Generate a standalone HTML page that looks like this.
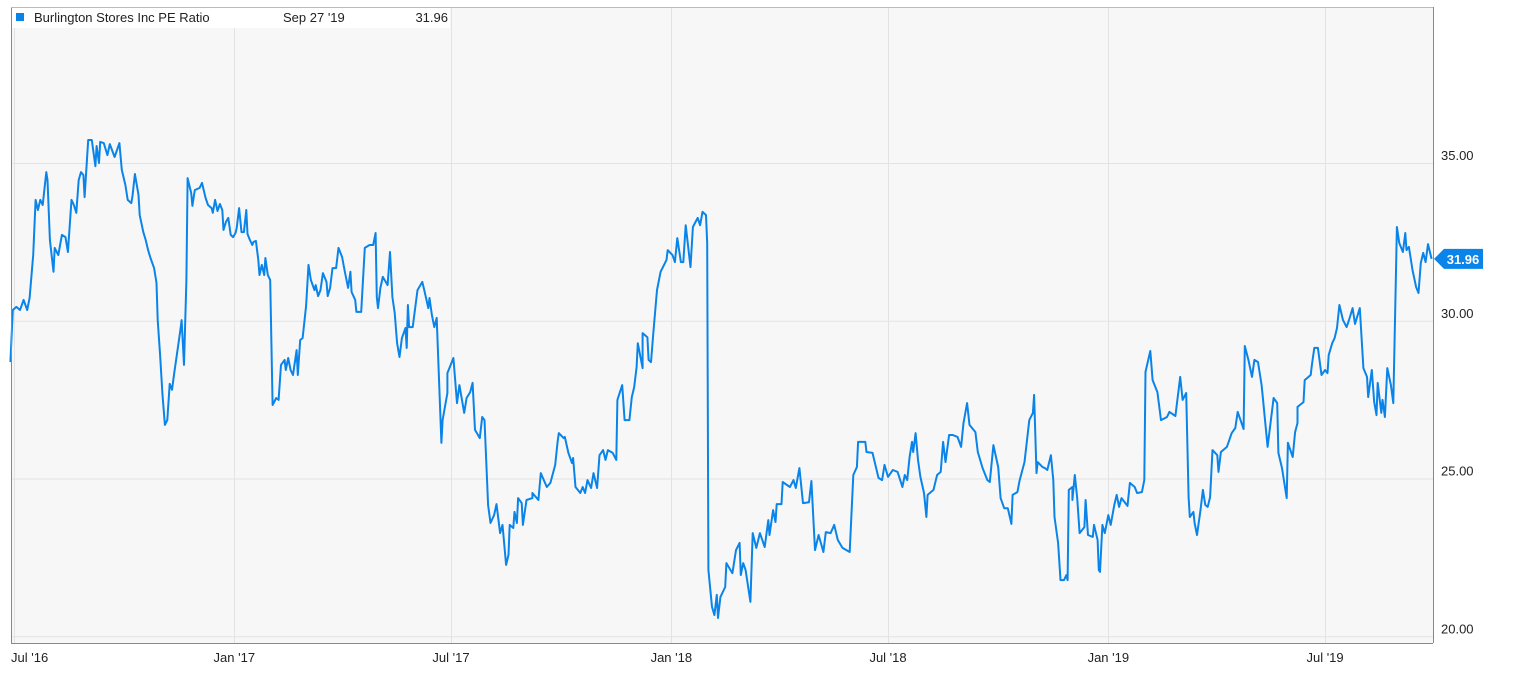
<!DOCTYPE html>
<html><head><meta charset="utf-8"><style>
body{margin:0;background:#fff;font-family:"Liberation Sans",Arial,sans-serif;}
svg text{font-family:"Liberation Sans",Arial,sans-serif;}
</style></head><body>
<svg id="chart" width="1528" height="680" xmlns="http://www.w3.org/2000/svg">
<rect x="11" y="7" width="1422" height="636" fill="#f7f7f7"/>
<g id="grid"></g>
<g id="axes"></g>
<polyline id="series" fill="none" stroke="#0a84e8" stroke-width="2" stroke-linejoin="round"/>
<line x1="11" y1="643.5" x2="1433" y2="643.5" stroke="#888"/>
<line x1="11.5" y1="7" x2="11.5" y2="643" stroke="#888"/>
<line x1="1433.5" y1="7" x2="1433.5" y2="643" stroke="#888"/>
<line x1="11" y1="7.5" x2="1433" y2="7.5" stroke="#bbb"/>
<g>
<rect x="12" y="8" width="438" height="20" fill="#fff"/>
<rect x="16" y="13" width="8" height="8" fill="#0a84e8"/>
<text x="34" y="22" font-size="13" fill="#222">Burlington Stores Inc PE Ratio</text>
<text x="283" y="22" font-size="13" fill="#222">Sep 27 '19</text>
<text x="448" y="22" font-size="13" fill="#222" text-anchor="end">31.96</text>
</g>
<g id="callout"></g>
</svg>
<script>
const days=[-3,-1,2,5,8,11,13,16,18,20,22,24,27,28,30,33,34,37,40,43,45,48,50,52,54,56,58,59,62,65,68,69,71,72,75,78,80,84,88,90,93,95,98,99,101,104,105,108,110,112,114,117,119,120,122,124,126,128,130,132,134,136,139,140,142,144,145,148,149,151,155,157,160,162,165,166,168,170,172,174,175,177,179,181,183,185,186,188,190,192,194,195,197,199,200,202,204,205,207,209,210,212,214,216,219,221,223,226,227,229,231,233,236,237,239,241,244,246,248,251,252,254,256,258,261,262,264,266,269,271,274,276,279,281,282,285,286,290,293,297,300,302,303,304,306,308,312,314,316,318,320,322,324,327,328,329,330,333,337,341,343,346,347,349,351,353,357,358,362,362,367,370,372,376,378,381,383,385,389,391,393,396,398,401,403,406,408,411,413,414,417,418,420,421,424,425,428,433,433,438,440,445,448,452,454,455,459,460,463,466,467,469,473,475,477,479,482,484,487,489,492,494,496,500,503,504,508,510,514,516,518,520,521,525,525,529,530,532,534,537,540,545,546,550,552,554,557,559,561,565,567,571,573,575,578,579,580,583,585,587,588,590,594,595,600,603,606,607,609,611,615,617,620,623,627,630,631,634,636,637,641,642,648,651,653,656,659,664,666,669,672,676,678,682,685,688,692,698,701,704,705,711,712,717,722,725,727,730,734,738,742,744,746,748,750,751,753,755,757,760,762,763,768,771,774,776,778,781,784,788,791,793,796,798,803,805,809,813,815,818,822,824,827,830,833,834,838,840,844,848,851,852,854,855,859,861,863,866,868,869,872,874,877,879,880,881,884,884,886,888,890,894,895,897,901,902,905,906,907,909,911,914,916,919,921,923,925,930,932,936,938,942,944,945,949,951,955,958,963,965,970,974,976,979,981,982,985,986,988,991,993,995,997,999,1001,1005,1006,1008,1013,1017,1020,1022,1027,1028,1031,1034,1036,1039,1042,1043,1047,1052,1055,1056,1059,1063,1064,1068,1070,1072,1072,1077,1078,1083,1084,1086,1089,1092,1095,1097,1098,1101,1103,1105,1107,1110,1113,1115,1118,1120,1124,1127,1130,1131,1134,1136,1138,1139,1142,1143,1145,1147,1150,1152,1155,1157,1160,1162,1163,1165,1168,1171,1173,1175,1177,1179,1181,1184];
const values=[28.69,30.34,30.44,30.34,30.66,30.34,30.72,32.08,33.83,33.51,33.83,33.67,34.71,34.46,32.56,31.55,32.31,32.08,32.72,32.65,32.18,33.83,33.67,33.42,34.46,34.71,34.62,33.92,35.73,35.73,34.90,35.54,35.00,35.67,35.63,35.25,35.60,35.19,35.63,34.78,34.30,33.83,33.73,33.95,34.65,33.99,33.35,32.81,32.56,32.24,31.99,31.67,31.20,30.02,28.91,27.65,26.70,26.85,28.00,27.81,28.38,28.91,29.71,30.02,28.60,31.29,34.52,34.05,33.64,34.14,34.21,34.37,33.89,33.67,33.57,33.42,33.83,33.48,33.70,33.51,32.88,33.13,33.26,32.72,32.65,32.78,32.94,33.57,32.81,32.81,33.51,32.75,32.56,32.40,32.50,32.53,31.93,31.45,31.77,31.45,31.99,31.45,31.29,27.33,27.55,27.49,28.60,28.76,28.44,28.82,28.44,28.28,29.07,28.28,29.39,29.45,30.47,31.77,31.29,30.97,31.13,30.78,30.97,31.51,31.23,30.78,31.04,31.67,31.67,32.31,32.02,31.61,31.04,31.55,30.91,30.66,30.28,30.28,32.31,32.40,32.40,32.78,30.75,30.40,31.04,31.39,31.13,32.18,30.75,30.25,29.29,28.85,29.45,29.77,29.14,30.50,29.80,29.80,30.97,31.23,30.91,30.40,30.72,30.18,29.80,30.09,26.13,26.85,27.71,28.34,28.82,27.39,27.96,27.08,27.55,27.74,28.03,26.54,26.28,26.95,26.85,24.16,23.59,23.84,24.19,23.27,23.53,22.26,22.58,23.53,23.43,23.94,23.59,24.38,24.22,23.53,24.32,24.38,24.54,24.32,25.17,24.73,24.86,25.43,26.16,26.44,26.28,26.32,25.81,25.49,25.65,24.73,24.54,24.73,24.54,24.95,24.70,25.17,24.70,25.74,25.90,25.59,25.90,25.81,25.59,27.49,27.96,26.85,26.85,27.58,27.90,28.53,29.29,28.50,29.61,29.48,28.76,28.69,29.64,30.97,31.55,31.93,32.24,32.08,31.86,32.62,31.86,31.86,33.03,31.70,32.97,33.26,33.03,33.45,33.35,32.46,22.10,20.93,20.67,21.31,20.58,21.24,21.56,22.32,22.00,22.73,22.96,21.94,22.32,22.10,21.09,23.27,22.80,23.27,22.83,23.68,23.21,24.00,23.62,24.19,24.19,24.89,24.73,24.95,24.70,25.33,24.22,24.25,24.92,22.73,23.21,22.67,23.30,23.27,23.53,23.05,22.80,22.67,25.11,25.36,26.16,26.16,25.84,25.81,25.02,24.95,25.43,25.05,25.27,25.21,24.73,25.11,24.95,25.68,26.16,25.84,26.44,25.59,25.05,24.54,23.78,24.48,24.64,25.11,25.21,26.16,25.52,26.38,26.38,26.32,26.00,26.76,27.39,26.70,26.47,25.84,25.33,24.95,24.89,26.06,25.36,24.38,24.06,24.06,23.56,24.48,24.57,24.95,25.52,26.85,27.08,27.65,25.17,25.52,25.36,25.33,25.27,25.74,24.95,23.78,22.96,21.78,21.78,21.94,21.78,24.64,24.73,24.32,25.11,24.38,23.27,23.46,24.32,23.21,23.15,23.53,23.05,22.10,22.04,23.53,23.27,23.84,23.53,24.16,24.48,24.10,24.38,24.13,24.86,24.73,24.54,24.57,24.95,28.38,29.04,28.12,27.74,26.85,26.95,27.11,26.98,28.22,27.49,27.71,24.41,23.78,23.94,23.59,23.21,24.00,24.64,24.16,24.10,24.41,25.90,25.74,25.21,25.84,26.00,26.44,26.60,27.11,26.57,29.20,28.76,28.22,28.76,28.69,27.96,27.58,26.00,27.55,27.39,25.81,25.33,24.38,26.13,25.68,26.47,26.76,27.27,27.42,28.12,28.28,28.60,29.14,29.14,28.28,28.44,28.34,28.91,29.29,29.45,29.77,30.50,30.02,29.80,30.02,30.40,29.90,30.40,28.50,28.22,27.58,28.44,27.42,27.01,28.03,27.08,27.49,26.95,28.50,27.96,27.39,32.97,32.46,32.18,32.78,32.24,32.34,31.61,31.07,30.88,31.83,32.15,31.86,32.43,31.96];
const yTicks=[20,25,30,35];
const xTickLabels=["Jul '16","Jan '17","Jul '17","Jan '18","Jul '18","Jan '19","Jul '19"];
const xTickDays=[0,184,365,549,730,914,1095];
const lastLabel="31.96";

const NS="http://www.w3.org/2000/svg";
function xs(d){return 14+d/0.8352;}
function ys(v){return 163+(35-v)*31.55;}
const grid=document.getElementById('grid'), axes=document.getElementById('axes');
yTicks.forEach(t=>{
  const l=document.createElementNS(NS,'line');
  
  
  l.setAttribute('x1',11);l.setAttribute('x2',1433);
  l.setAttribute('y1',ys(t)+0.5);l.setAttribute('y2',ys(t)+0.5);
  l.setAttribute('stroke','#e3e3e3');
  grid.appendChild(l);
  const tx=document.createElementNS(NS,'text');
  
  
  tx.setAttribute('x',1441);tx.setAttribute('y',ys(t)-3);
  tx.setAttribute('font-size','13');tx.setAttribute('fill','#222');
  tx.textContent=t.toFixed(2);
  axes.appendChild(tx);
});
xTickDays.forEach((d,i)=>{
  const x=xs(d);
  const l=document.createElementNS(NS,'line');
  
  
  l.setAttribute('x1',Math.round(x)+0.5);l.setAttribute('x2',Math.round(x)+0.5);
  l.setAttribute('y1',7);l.setAttribute('y2',643);
  l.setAttribute('stroke','#e3e3e3');
  grid.appendChild(l);
  const tx=document.createElementNS(NS,'text');
  
  
  tx.setAttribute('x',i===0?11:x);tx.setAttribute('y',662);
  tx.setAttribute('text-anchor',i===0?'start':'middle');
  tx.setAttribute('font-size','13');tx.setAttribute('fill','#222');
  tx.textContent=xTickLabels[i];
  axes.appendChild(tx);
});
document.getElementById('series').setAttribute('points',days.map((d,i)=>xs(d).toFixed(1)+','+ys(values[i]).toFixed(1)).join(' '));
const cy=ys(values[values.length-1]);
const c=document.getElementById('callout');
const p=document.createElementNS(NS,'path');


p.setAttribute('d',`M1434 ${cy} L1444 ${cy-10} L1483 ${cy-10} L1483 ${cy+10} L1444 ${cy+10} Z`);
p.setAttribute('fill','#0a84e8');
c.appendChild(p);
const ct=document.createElementNS(NS,'text');


ct.setAttribute('x',1463);ct.setAttribute('y',cy+5);
ct.setAttribute('text-anchor','middle');ct.setAttribute('font-size','13');
ct.setAttribute('font-weight','bold');ct.setAttribute('fill','#fff');
ct.textContent=lastLabel;
c.appendChild(ct);
</script>
</body></html>
